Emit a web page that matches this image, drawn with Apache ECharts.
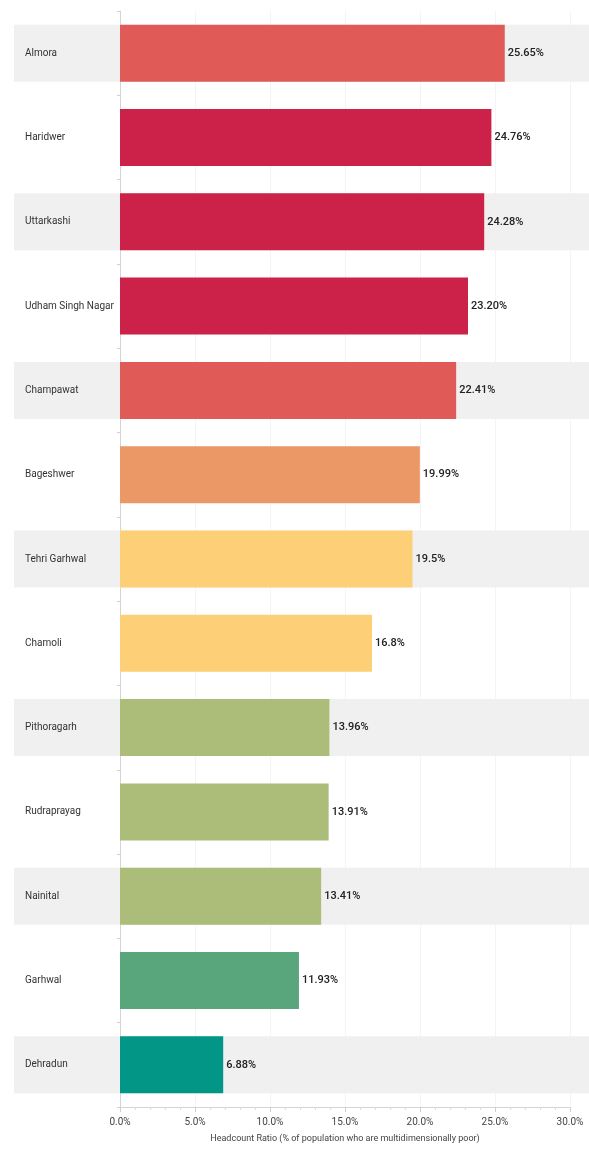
<!DOCTYPE html>
<html>
<head>
<meta charset="utf-8">
<script src="https://cdn.jsdelivr.net/npm/echarts@6/dist/echarts.min.js"></script>
<style>
  html, body { margin: 0; padding: 0; background: #fff; }
  #chart { width: 589px; height: 1155px; }
</style>
</head>
<body>
<div id="chart"></div>
<script>
// district names, top to bottom
const districts = [
  'Almora', 'Haridwer', 'Uttarkashi', 'Udham Singh Nagar', 'Champawat',
  'Bageshwer', 'Tehri Garhwal', 'Chamoli', 'Pithoragarh', 'Rudraprayag',
  'Nainital', 'Garhwal', 'Dehradun'
]
// headcount ratio (%)
const ratios = [25.65, 24.76, 24.28, 23.20, 22.41, 19.99, 19.5, 16.8, 13.96, 13.91, 13.41, 11.93, 6.88]
// label text as printed on the chart
const ratioLabels = ['25.65%', '24.76%', '24.28%', '23.20%', '22.41%', '19.99%', '19.5%', '16.8%',
  '13.96%', '13.91%', '13.41%', '11.93%', '6.88%']
const barColors = ['#e05a58', '#cc2149', '#cc2149', '#cc2149', '#e05a58', '#eb9866', '#fdcf76',
  '#fdcf76', '#abbd78', '#abbd78', '#abbd78', '#59a57c', '#029686']
const xTicks = [0, 5, 10, 15, 20, 25, 30]

const font = "Roboto, 'Noto Sans', sans-serif"
// alternating grey row bands
const bands = districts.map((d, i) => (i % 2 === 0 ? 1 : 0))

const myChart = echarts.init(document.getElementById('chart'))
const option = {
  animation: false,
  grid: [
    { left: 120, right: 19, top: 11, bottom: 48 },
    { left: 14, right: 0, top: 11, bottom: 48 }
  ],
  xAxis: [
    {
      type: 'value',
      gridIndex: 0,
      min: xTicks[0],
      max: xTicks[xTicks.length - 1],
      interval: 5,
      name: 'Headcount Ratio (% of population who are multidimensionally poor)',
      nameLocation: 'middle',
      nameGap: 27,
      nameTextStyle: { fontFamily: font, fontSize: 9, color: '#444' },
      axisLine: { show: true, lineStyle: { color: '#d4d4d4' } },
      axisTick: { show: true, length: 5, lineStyle: { color: '#cfcfcf' } },
      minorTick: { show: true, splitNumber: 5, length: 3, lineStyle: { color: '#dcdcdc' } },
      splitLine: { show: true, lineStyle: { color: '#f4f4f4' } },
      axisLabel: {
        margin: 10,
        fontFamily: font,
        fontSize: 10,
        color: '#444',
        formatter: (v) => v.toFixed(1) + '%'
      }
    },
    { type: 'value', gridIndex: 1, min: 0, max: 1, show: false }
  ],
  yAxis: [
    {
      type: 'category',
      gridIndex: 0,
      inverse: true,
      data: districts,
      axisLine: { show: true, lineStyle: { color: '#d4d4d4' } },
      axisTick: { show: true, length: 3, lineStyle: { color: '#cfcfcf' } },
      axisLabel: {
        align: 'left',
        margin: 95,
        fontFamily: font,
        fontSize: 10,
        color: '#333'
      }
    },
    { type: 'category', gridIndex: 1, inverse: true, data: districts, show: false }
  ],
  series: [
    {
      name: 'band',
      type: 'bar',
      xAxisIndex: 1,
      yAxisIndex: 1,
      data: bands,
      barWidth: 57,
      silent: true,
      z: 0,
      itemStyle: { color: '#f0f0f0' }
    },
    {
      name: 'Headcount Ratio',
      type: 'bar',
      xAxisIndex: 0,
      yAxisIndex: 0,
      barWidth: 57,
      z: 3,
      data: ratios.map((v, i) => ({ value: v, itemStyle: { color: barColors[i] } })),
      label: {
        show: true,
        position: 'right',
        distance: 3,
        fontFamily: font,
        fontSize: 11,
        fontWeight: 500,
        color: '#222',
        formatter: (p) => ratioLabels[p.dataIndex]
      }
    }
  ]
}
myChart.setOption(option)
</script>
</body>
</html>
